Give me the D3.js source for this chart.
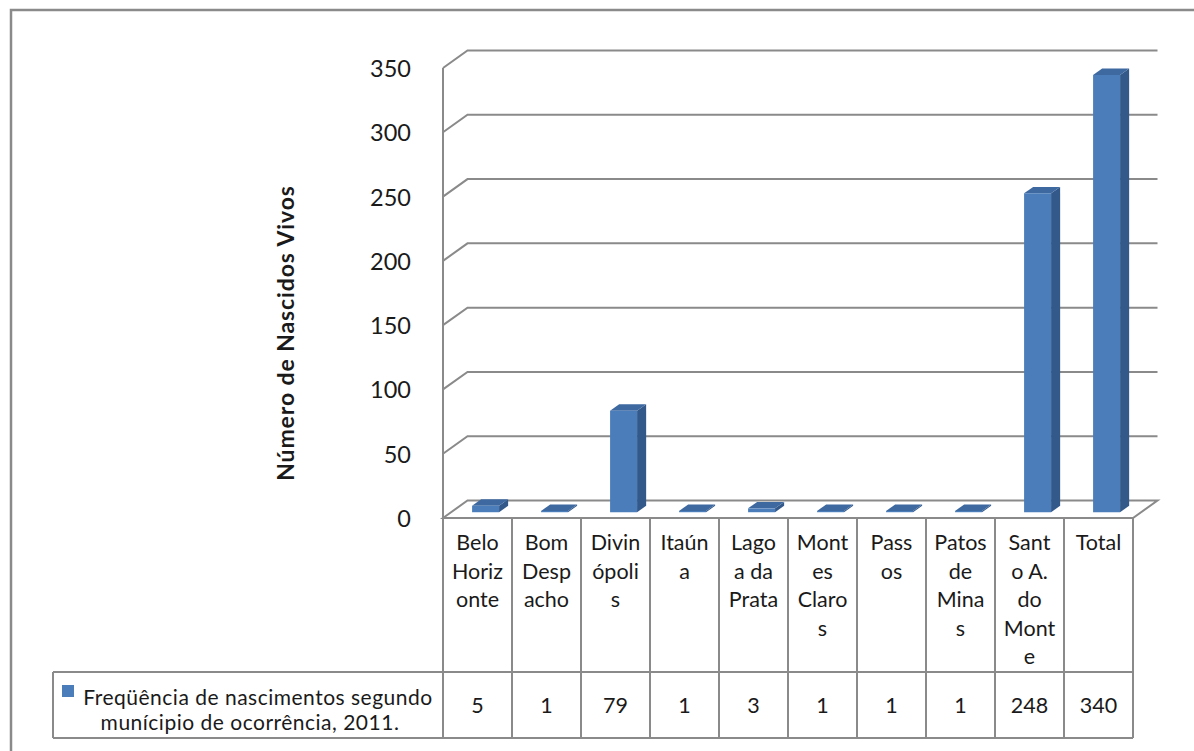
<!DOCTYPE html>
<html>
<head>
<meta charset="utf-8">
<script src="https://cdn.jsdelivr.net/npm/d3@7"></script>
<style>
  html, body { margin: 0; padding: 0; background: #fff; }
  svg text { font-family: Lato, "Open Sans", sans-serif; fill: #1a1a1a; }
</style>
</head>
<body>
<svg id="chart" width="1194" height="751"></svg>
<script>
// Municipalities (label lines as wrapped in the data table)
const categoryLines = [
  ["Belo", "Horiz", "onte"],
  ["Bom", "Desp", "acho"],
  ["Divin", "ópoli", "s"],
  ["Itaún", "a"],
  ["Lago", "a da", "Prata"],
  ["Mont", "es", "Claro", "s"],
  ["Pass", "os"],
  ["Patos", "de", "Mina", "s"],
  ["Sant", "o A.", "do", "Mont", "e"],
  ["Total"]
];
const values = [5, 1, 79, 1, 3, 1, 1, 1, 248, 340];
const yTicks = [0, 50, 100, 150, 200, 250, 300, 350];
const seriesLines = ["Freqüência de nascimentos segundo", "munícipio de ocorrência, 2011."];
const yTitle = "Número de Nascidos Vivos";

const svg = d3.select("#chart");
const GRID = "#8a8a8a";
const FRONT = "#4b7dba", SIDE = "#33598a", TOP = "#3d69a0";

// 3D projection: depth d in [0,1] shifts points right/up
const DX = 24.5, DY = 17.5;
const x = d3.scaleBand().domain(d3.range(values.length)).range([443, 1133]).paddingInner(0).paddingOuter(0);
const y = d3.scaleLinear().domain([0, 350]).range([518, 68]);
const P = (px, v, d) => [px + d * DX, y(v) - d * DY];

// Outer frame
svg.append("path")
  .attr("d", "M11,760 L11,10 L1200,10")
  .attr("fill", "none").attr("stroke", GRID).attr("stroke-width", 2.5);

// Floor
const x0 = x.range()[0], x1 = x.range()[1];
const floor = [P(x0, 0, 0), P(x0, 0, 1), P(x1, 0, 1), P(x1, 0, 0)];
svg.append("path")
  .attr("d", "M" + floor.join("L") + "Z")
  .attr("fill", "none").attr("stroke", GRID).attr("stroke-width", 2);

// Gridlines: side wall diagonal + back wall horizontal
svg.append("g").selectAll("path").data(yTicks.filter(t => t > 0)).join("path")
  .attr("d", t => "M" + [P(x0, t, 0), P(x0, t, 1), P(x1, t, 1)].join("L"))
  .attr("fill", "none").attr("stroke", GRID).attr("stroke-width", 2);

// Vertical axis line
svg.append("line")
  .attr("x1", x0).attr("x2", x0).attr("y1", y(0)).attr("y2", y(350))
  .attr("stroke", GRID).attr("stroke-width", 2);

// Tick labels
svg.append("g").selectAll("text").data(yTicks).join("text")
  .attr("x", 411).attr("y", t => y(t) + 9)
  .attr("text-anchor", "end").attr("font-size", 23.5)
  .text(t => t);

// Axis title
svg.append("text")
  .attr("transform", "translate(294,333) rotate(-90)")
  .attr("text-anchor", "middle").attr("font-size", 23).attr("font-weight", "bold")
  .attr("letter-spacing", 0.9)
  .text(yTitle);

// Columns
const BW = 27, D0 = 0.33, D1 = 0.70;
const bars = svg.append("g").selectAll("g").data(values).join("g");
bars.each(function (v, i) {
  const g = d3.select(this);
  const l = x(i) + (x.bandwidth() - BW) / 2, r = l + BW;
  const poly = pts => "M" + pts.join("L") + "Z";
  // side
  g.append("path").attr("fill", SIDE)
    .attr("d", poly([P(r, 0, D0), P(r, 0, D1), P(r, v, D1), P(r, v, D0)]));
  // top
  g.append("path").attr("fill", TOP)
    .attr("d", poly([P(l, v, D0), P(l, v, D1), P(r, v, D1), P(r, v, D0)]));
  // front
  g.append("path").attr("fill", FRONT)
    .attr("d", poly([P(l, 0, D0), P(l, v, D0), P(r, v, D0), P(r, 0, D0)]));
});

// Data table
const tTop = y(0), tMid = 672, tBot = 738, legendLeft = 53;
const tbl = svg.append("g").attr("stroke", GRID).attr("stroke-width", 2);
d3.range(values.length + 1).forEach(i => {
  const xx = i < values.length ? x(i) : x1;
  tbl.append("line").attr("x1", xx).attr("x2", xx).attr("y1", tTop).attr("y2", tBot);
});
tbl.append("line").attr("x1", legendLeft).attr("x2", x1).attr("y1", tMid).attr("y2", tMid);
tbl.append("line").attr("x1", legendLeft).attr("x2", x1).attr("y1", tBot).attr("y2", tBot);
tbl.append("line").attr("x1", legendLeft).attr("x2", legendLeft).attr("y1", tMid).attr("y2", tBot);

// Category labels
svg.append("g").selectAll("text").data(categoryLines).join("text")
  .attr("text-anchor", "middle").attr("font-size", 21.5)
  .attr("x", (d, i) => x(i) + x.bandwidth() / 2)
  .each(function (lines) {
    d3.select(this).selectAll("tspan").data(lines).join("tspan")
      .attr("x", d3.select(this).attr("x"))
      .attr("y", (s, j) => 550 + j * 28.5)
      .text(s => s);
  });

// Values row
svg.append("g").selectAll("text").data(values).join("text")
  .attr("text-anchor", "middle").attr("font-size", 21.5)
  .attr("x", (d, i) => x(i) + x.bandwidth() / 2)
  .attr("y", 713)
  .text(d => d);

// Legend key + series name (two separate lines)
svg.append("rect").attr("x", 62).attr("y", 685).attr("width", 12).attr("height", 12).attr("fill", FRONT);
svg.append("g").selectAll("text").data(seriesLines).join("text")
  .attr("font-size", 21).attr("text-anchor", "middle").attr("letter-spacing", 0.5)
  .attr("x", (d, j) => j === 0 ? 258 : 250)
  .attr("y", (d, j) => 705 + j * 24.5)
  .text(d => d);
</script>
</body>
</html>
